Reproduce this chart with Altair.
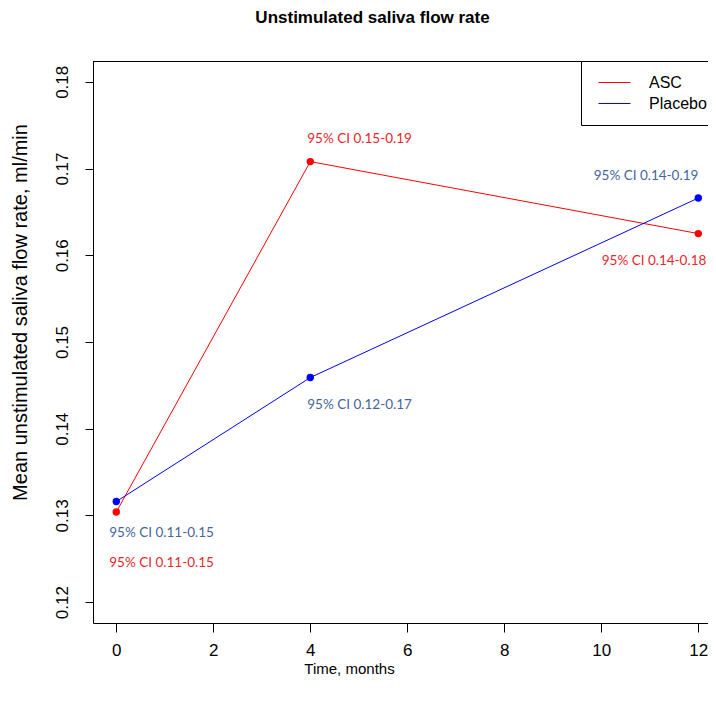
import altair as alt
import pandas as pd

# ---- data ----
months = [0, 4, 12]
groups = ["ASC", "Placebo"]
asc_values = [0.1304, 0.1708, 0.1625]
placebo_values = [0.1316, 0.1459, 0.1666]
asc_ci = ["95% CI 0.11-0.15", "95% CI 0.15-0.19", "95% CI 0.14-0.18"]
placebo_ci = ["95% CI 0.11-0.15", "95% CI 0.12-0.17", "95% CI 0.14-0.19"]
x_ticks = [0, 2, 4, 6, 8, 10, 12]
y_ticks = [0.12, 0.13, 0.14, 0.15, 0.16, 0.17, 0.18]

rows = []
for g, vals, cis in [("ASC", asc_values, asc_ci), ("Placebo", placebo_values, placebo_ci)]:
    for m, v, c in zip(months, vals, cis):
        rows.append({"group": g, "month": m, "value": v, "ci": c})
df = pd.DataFrame(rows)

W, H = 615, 562
FONT = "Liberation Sans"

xscale = alt.Scale(domain=[-0.48, 12.2], nice=False, zero=False)
yscale = alt.Scale(domain=[0.1176, 0.1824], nice=False, zero=False)
cscale = alt.Scale(domain=groups, range=["#ff0000", "#0000ff"])

x_enc = alt.X("month:Q", scale=xscale,
              axis=alt.Axis(values=x_ticks, title="Time, months", labelFontSize=17,
                            titleFontSize=15, tickSize=9, labelPadding=10,
                            titleX=256, titleY=45, titleAlign="center",
                            titleBaseline="middle", labelFlush=False, grid=False))
y_enc = alt.Y("value:Q", scale=yscale,
              axis=alt.Axis(values=y_ticks, format=".2f",
                            title="Mean unstimulated saliva flow rate, ml/min",
                            labelAngle=270, labelAlign="center", labelBaseline="bottom",
                            labelPadding=14, labelFontSize=17, tickSize=8,
                            titleFontSize=20, titleAngle=270, titleX=-73, titleY=251,
                            titleAlign="center", titleBaseline="middle", labelFlush=False,
                            grid=False))

base = alt.Chart(df)

lines = base.mark_line(strokeWidth=1).encode(
    x=x_enc, y=y_enc,
    color=alt.Color("group:N", scale=cscale, title=None,
                    legend=alt.Legend(orient="none", legendX=488, legendY=0,
                                      symbolType="stroke", symbolSize=1024,
                                      symbolStrokeWidth=1, symbolOffset=4,
                                      labelFont=FONT, labelFontSize=16,
                                      labelColor="black", labelOffset=18,
                                      padding=13, rowPadding=4, clipHeight=17,
                                      strokeColor="black", fillColor="white",
                                      cornerRadius=0)),
    detail="group:N",
)

points = base.mark_circle(size=55, opacity=1).encode(
    x="month:Q", y="value:Q",
    color=alt.Color("group:N", scale=cscale, legend=None),
)

top_border = alt.Chart(pd.DataFrame({"k": [0]})).mark_rule(color="black", strokeWidth=1).encode(
    x=alt.value(0), x2=alt.value(W), y=alt.value(0.5)
)

# label offsets (pixels) relative to each point: group, month -> (align, dx, dy)
label_style = {
    ("ASC", 0): ("left", -7, 51),
    ("ASC", 4): ("left", -3, -23),
    ("ASC", 12): ("right", 8, 27),
    ("Placebo", 0): ("left", -7, 31),
    ("Placebo", 4): ("left", -3, 27),
    ("Placebo", 12): ("right", 0, -22),
}
text_colors = {"ASC": "#e8262a", "Placebo": "#44679b"}

labels = []
for (g, m), (al, dx, dy) in label_style.items():
    sub = df[(df.group == g) & (df.month == m)]
    labels.append(
        alt.Chart(sub).mark_text(align=al, baseline="middle", dx=dx, dy=dy,
                                 font="Lato", fontSize=13.5, color=text_colors[g]).encode(
            x="month:Q", y="value:Q", text="ci:N")
    )

chart = alt.layer(top_border, lines, points, *labels).properties(
    width=W, height=H,
    autosize=alt.AutoSizeParams(type="none"),
    padding={"left": 85, "top": 53, "right": 0, "bottom": 77},
    title=alt.TitleParams("Unstimulated saliva flow rate", font=FONT, fontSize=17,
                          fontWeight="bold", anchor="middle", frame="group",
                          dx=-28, offset=34, color="black"),
).configure(background="white").configure_view(strokeWidth=0).configure_axis(
    grid=False, domainColor="black", tickColor="black", labelColor="black",
    titleColor="black", labelFont=FONT, titleFont=FONT, titleFontWeight="normal",
    domainWidth=1, tickWidth=1,
)

chart.save("out.html", embed_options={"renderer": "svg", "actions": False})
